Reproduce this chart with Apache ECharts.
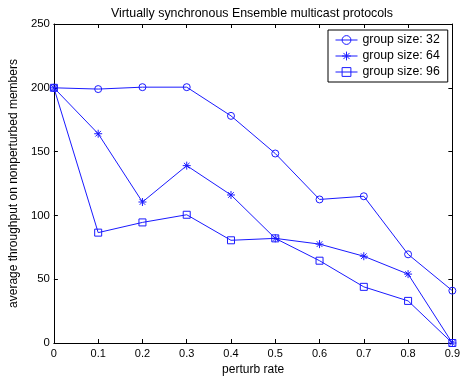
<!DOCTYPE html>
<html>
<head>
<meta charset="utf-8">
<script src="https://cdn.jsdelivr.net/npm/echarts@6/dist/echarts.min.js"></script>
<style>
  html, body { margin: 0; padding: 0; background: #fff; }
  #chart { width: 463px; height: 381px; }
</style>
</head>
<body>
<div id="chart"></div>
<script>
// Perturb rates along the x axis
const perturbRates = [0, 0.1, 0.2, 0.3, 0.4, 0.5, 0.6, 0.7, 0.8, 0.9];

// Average throughput on nonperturbed members, one list per group size
const group32 = [200, 199, 200.5, 200.5, 178, 148.5, 112.5, 115, 69.5, 41];
const group64 = [200, 164, 110.5, 139, 116, 82, 77.5, 68, 54, 0];
const group96 = [200, 86.5, 94.5, 100.5, 80.5, 82, 64.5, 44, 33, 0];

const seriesNames = ['group size: 32', 'group size: 64', 'group size: 96'];
const yTicks = [0, 50, 100, 150, 200, 250];

const BLUE = '#1a1aff';
const FONT = '"Liberation Sans", Arial, sans-serif';
const ASTERISK = 'path://M0,-1L0,1M-1,0L1,0M-0.7,-0.7L0.7,0.7M-0.7,0.7L0.7,-0.7';
const symbols = ['circle', ASTERISK, 'rect'];

function pairs(values) {
  return perturbRates.map((x, i) => [x, values[i]]);
}

// Hollow markers: transparent fill, thin blue outline
function lineSeries(name, values, symbol, size) {
  return {
    name: name,
    type: 'line',
    data: pairs(values),
    symbol: symbol,
    legendIcon: symbol,
    symbolSize: size,
    showAllSymbol: true,
    clip: false,
    color: BLUE,
    lineStyle: { color: BLUE, width: 1 },
    itemStyle: { color: 'rgba(255,255,255,0)', borderColor: BLUE, borderWidth: 1 },
    emphasis: { disabled: true },
    animation: false
  };
}

const chart = echarts.init(document.getElementById('chart'), null, { renderer: 'canvas' });

const xCommon = {
  type: 'value',
  min: 0,
  max: 0.9,
  interval: 0.1,
  axisLine: { show: true, onZero: false, lineStyle: { color: '#000', width: 1 } },
  axisTick: { show: true, inside: true, length: 4, lineStyle: { color: '#000' } },
  splitLine: { show: false }
};
const yCommon = {
  type: 'value',
  min: yTicks[0],
  max: yTicks[yTicks.length - 1],
  interval: 50,
  axisLine: { show: true, onZero: false, lineStyle: { color: '#000', width: 1 } },
  axisTick: { show: true, inside: true, length: 4, lineStyle: { color: '#000' } },
  splitLine: { show: false }
};

chart.setOption({
  backgroundColor: '#fff',
  textStyle: { fontFamily: FONT },
  title: {
    text: 'Virtually synchronous Ensemble multicast protocols',
    left: 247,
    textAlign: 'center',
    top: 3,
    textStyle: { fontSize: 12.4, fontWeight: 'normal', color: '#000', fontFamily: FONT }
  },
  legend: {
    data: seriesNames,
    orient: 'vertical',
    left: 328,
    top: 30,
    padding: [4, 8, 4, 7],
    itemGap: 4,
    itemWidth: 22,
    itemHeight: 11,
    backgroundColor: '#fff',
    borderColor: '#000',
    borderWidth: 1,
    borderRadius: 0,
    lineStyle: { width: 1 },
    itemStyle: { borderWidth: 1 },
    textStyle: { fontSize: 12.3, color: '#000', fontFamily: FONT, padding: [0, 0, 0, 0] }
  },
  grid: { left: 49, right: 8, top: 24, bottom: 37, containLabel: false },
  xAxis: [
    Object.assign({}, xCommon, {
      position: 'bottom',
      name: 'perturb rate',
      nameLocation: 'middle',
      nameGap: 21,
      nameTextStyle: { fontSize: 12, color: '#000', fontFamily: FONT },
      axisLabel: {
        fontSize: 11, color: '#000', margin: 5, fontFamily: FONT,
        formatter: v => String(Math.round(v * 10) / 10)
      }
    }),
    Object.assign({}, xCommon, { position: 'top', axisLabel: { show: false } })
  ],
  yAxis: [
    Object.assign({}, yCommon, {
      position: 'left',
      name: 'average throughput on nonperturbed members',
      nameLocation: 'middle',
      nameGap: 30,
      nameTextStyle: { fontSize: 12, color: '#000', fontFamily: FONT },
      axisLabel: { fontSize: 11.4, color: '#000', margin: 4, fontFamily: FONT }
    }),
    Object.assign({}, yCommon, { position: 'right', axisLabel: { show: false } })
  ],
  series: [
    lineSeries(seriesNames[0], group32, symbols[0], 7),
    lineSeries(seriesNames[1], group64, symbols[1], 8),
    lineSeries(seriesNames[2], group96, symbols[2], 7)
  ]
});
</script>
</body>
</html>
